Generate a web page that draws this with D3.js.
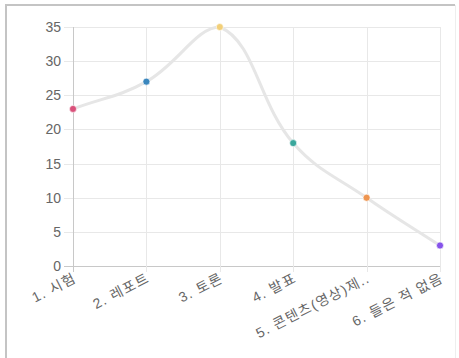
<!DOCTYPE html>
<html><head><meta charset="utf-8">
<script src="https://cdn.jsdelivr.net/npm/d3@7"></script>
<style>html,body{margin:0;padding:0;background:#fff;}svg{display:block;}</style>
</head><body>
<svg id="c" width="459" height="358"></svg>
<script>
const categories = ["1. 시험","2. 레포트","3. 토론","4. 발표","5. 콘텐츠(영상)제..","6. 들은 적 없음"];
const values = [23, 27, 35, 18, 10, 3];
const pointColors = ["#d9507a","#3a86bd","#f2cf78","#3aa79c","#ee9550","#8653ea"];
const yTicks = [0,5,10,15,20,25,30,35];

const svg = d3.select("#c");
const font = "'Liberation Sans','Noto Sans CJK KR',sans-serif";

// card border
svg.append("line").attr("x1",6).attr("x2",6).attr("y1",4).attr("y2",358).attr("stroke","#c4c4c4").attr("stroke-width",2);
svg.append("line").attr("x1",5).attr("x2",455).attr("y1",5).attr("y2",5).attr("stroke","#c4c4c4").attr("stroke-width",2);
svg.append("line").attr("x1",455.5).attr("x2",455.5).attr("y1",5).attr("y2",358).attr("stroke","#eeeeee").attr("stroke-width",1);

const x = d3.scalePoint().domain(categories).range([73, 440]);
const y = d3.scaleLinear().domain([0, 35]).range([266, 27]);

const g = svg.append("g");
g.selectAll(".hg").data(yTicks).join("line")
  .attr("x1", 64).attr("x2", 440)
  .attr("y1", d => Math.round(y(d))+0.5).attr("y2", d => Math.round(y(d))+0.5)
  .attr("stroke", d => d===0 ? "#c8c8c8" : "#e8e8e8").attr("stroke-width",1);
g.selectAll(".vg").data(categories).join("line")
  .attr("x1", d => Math.round(x(d))+0.5).attr("x2", d => Math.round(x(d))+0.5)
  .attr("y1", 27).attr("y2", 272)
  .attr("stroke", (d,i) => i===0 ? "#c8c8c8" : "#e8e8e8").attr("stroke-width",1);

g.selectAll(".yl").data(yTicks).join("text")
  .attr("x", 61).attr("y", d => y(d))
  .attr("dy","0.36em").attr("text-anchor","end")
  .attr("font-family", font).attr("font-size", 14).attr("fill","#666")
  .text(d => d);

g.selectAll(".xl").data(categories).join("text")
  .attr("transform", d => `translate(${x(d)+2},${277}) rotate(-27)`)
  .attr("text-anchor","end").attr("dy","0.35em")
  .attr("font-family", font).attr("font-size", 14).attr("letter-spacing", 1.2).attr("fill","#666")
  .text(d => d);

// Chart.js-like spline (tension 0.4) with capped control points
const pts = values.map((v,i) => ({x: x(categories[i]), y: y(v)}));
const t = 0.4;
pts.forEach((p,i) => {
  const prev = pts[i-1] || p, next = pts[i+1] || p;
  const d01 = Math.hypot(p.x-prev.x, p.y-prev.y);
  const d12 = Math.hypot(next.x-p.x, next.y-p.y);
  let s01 = d01/(d01+d12), s12 = d12/(d01+d12);
  if (isNaN(s01)) s01 = 0; if (isNaN(s12)) s12 = 0;
  const fa = t*s01, fb = t*s12;
  p.cpPx = p.x - fa*(next.x-prev.x); p.cpPy = p.y - fa*(next.y-prev.y);
  p.cpNx = p.x + fb*(next.x-prev.x); p.cpNy = p.y + fb*(next.y-prev.y);
  const cap = (v,lo,hi) => Math.max(lo, Math.min(hi, v));
  p.cpPx = cap(p.cpPx,73,440); p.cpNx = cap(p.cpNx,73,440);
  p.cpPy = cap(p.cpPy,27,266); p.cpNy = cap(p.cpNy,27,266);
});
const path = d3.path();
path.moveTo(pts[0].x, pts[0].y);
for (let i=1;i<pts.length;i++) {
  const a = pts[i-1], b = pts[i];
  path.bezierCurveTo(a.cpNx, a.cpNy, b.cpPx, b.cpPy, b.x, b.y);
}
svg.append("path").attr("d", path.toString())
  .attr("fill","none").attr("stroke","#e6e6e6").attr("stroke-width",3);

svg.selectAll(".pt").data(values).join("circle")
  .attr("cx", (d,i) => x(categories[i])).attr("cy", d => y(d))
  .attr("r", 3.5).attr("fill", (d,i) => pointColors[i])
  .attr("stroke","#ffffff").attr("stroke-opacity",0.6).attr("stroke-width",1);
</script>
</body></html>
